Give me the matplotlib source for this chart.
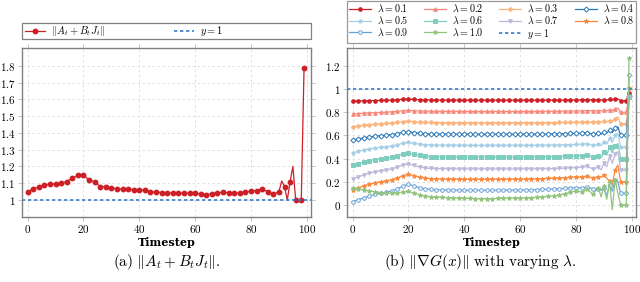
import numpy as np
import matplotlib
matplotlib.use('Agg')
import matplotlib.pyplot as plt
from matplotlib.patches import Rectangle
from matplotlib.ticker import FixedLocator, FixedFormatter

plt.rcParams['mathtext.fontset'] = 'cm'
plt.rcParams['font.family'] = ['DejaVu Serif']

# ---- (a) ||A_t + B_t J_t|| ----
t_a = list(range(0, 91, 2)) + [91, 92, 93, 94, 95, 96, 98, 99]
norm_a = [1.050, 1.064, 1.078, 1.090, 1.093, 1.097, 1.100, 1.110, 1.130, 1.147,
          1.150, 1.118, 1.107, 1.080, 1.080, 1.070, 1.068, 1.064, 1.064, 1.062,
          1.060, 1.058, 1.048, 1.048, 1.044, 1.040, 1.042, 1.040, 1.040, 1.040,
          1.040, 1.036, 1.032, 1.036, 1.042, 1.046, 1.042, 1.040, 1.042, 1.046,
          1.054, 1.056, 1.066, 1.048, 1.034, 1.050,
          1.113, 1.080, 1.000, 1.110, 1.200, 1.000, 1.000, 1.790]
unmarked_a = [91, 93, 95]

# ---- (b) ||grad G(x)|| for several lambda ----
t_b = list(range(0, 89, 2)) + list(range(89, 100))
lambdas = ['0.1', '0.2', '0.3', '0.4', '0.5', '0.6', '0.7', '0.8', '0.9', '1.0']
g01 = [0.895, 0.897, 0.899, 0.900, 0.901, 0.902, 0.903, 0.905, 0.908, 0.911, 0.912, 0.910, 0.908, 0.907, 0.906,
       0.906, 0.905, 0.905, 0.905, 0.905, 0.904, 0.904, 0.904, 0.904, 0.904, 0.904, 0.904, 0.904, 0.904, 0.904,
       0.904, 0.904, 0.904, 0.904, 0.905, 0.905, 0.905, 0.905, 0.905, 0.906, 0.906, 0.906, 0.907, 0.906, 0.906,
       0.905, 0.908, 0.906, 0.910, 0.908, 0.912, 0.915, 0.900, 0.900, 0.900, 0.970]
g02 = [0.784, 0.788, 0.792, 0.795, 0.797, 0.799, 0.801, 0.804, 0.808, 0.813, 0.816, 0.813, 0.811, 0.810, 0.809,
       0.809, 0.808, 0.808, 0.808, 0.808, 0.807, 0.807, 0.807, 0.807, 0.807, 0.807, 0.807, 0.807, 0.807, 0.807,
       0.807, 0.807, 0.808, 0.808, 0.808, 0.808, 0.809, 0.809, 0.810, 0.810, 0.811, 0.812, 0.814, 0.812, 0.813,
       0.812, 0.818, 0.812, 0.822, 0.815, 0.830, 0.836, 0.800, 0.800, 0.800, 0.950]
g03 = [0.675, 0.682, 0.688, 0.693, 0.697, 0.700, 0.703, 0.707, 0.713, 0.720, 0.724, 0.719, 0.715, 0.713, 0.712,
       0.711, 0.710, 0.710, 0.710, 0.709, 0.709, 0.709, 0.709, 0.709, 0.709, 0.709, 0.709, 0.709, 0.709, 0.709,
       0.709, 0.710, 0.710, 0.710, 0.710, 0.711, 0.711, 0.712, 0.712, 0.713, 0.714, 0.716, 0.718, 0.715, 0.717,
       0.715, 0.722, 0.716, 0.728, 0.720, 0.745, 0.760, 0.700, 0.700, 0.700, 0.940]
g04 = [0.560, 0.570, 0.579, 0.587, 0.593, 0.598, 0.602, 0.607, 0.615, 0.626, 0.632, 0.625, 0.619, 0.616, 0.614,
       0.613, 0.612, 0.612, 0.612, 0.611, 0.611, 0.611, 0.611, 0.611, 0.611, 0.611, 0.611, 0.611, 0.611, 0.611,
       0.611, 0.612, 0.612, 0.612, 0.612, 0.613, 0.614, 0.615, 0.616, 0.617, 0.618, 0.620, 0.625, 0.612, 0.618,
       0.610, 0.630, 0.620, 0.645, 0.625, 0.660, 0.675, 0.600, 0.600, 0.600, 0.940]
g05 = [0.450, 0.463, 0.475, 0.485, 0.492, 0.498, 0.503, 0.509, 0.519, 0.533, 0.540, 0.531, 0.524, 0.520, 0.518,
       0.517, 0.516, 0.515, 0.515, 0.515, 0.514, 0.514, 0.514, 0.514, 0.514, 0.514, 0.514, 0.514, 0.514, 0.514,
       0.514, 0.515, 0.515, 0.515, 0.516, 0.516, 0.517, 0.518, 0.519, 0.521, 0.522, 0.525, 0.530, 0.515, 0.522,
       0.512, 0.545, 0.525, 0.575, 0.540, 0.600, 0.620, 0.500, 0.500, 0.500, 0.930]
g06 = [0.342, 0.357, 0.371, 0.383, 0.392, 0.399, 0.405, 0.412, 0.424, 0.441, 0.448, 0.438, 0.428, 0.421, 0.418,
       0.416, 0.415, 0.415, 0.414, 0.414, 0.414, 0.414, 0.414, 0.414, 0.414, 0.414, 0.414, 0.414, 0.414, 0.414,
       0.414, 0.415, 0.415, 0.415, 0.416, 0.416, 0.417, 0.418, 0.420, 0.422, 0.424, 0.427, 0.433, 0.415, 0.425,
       0.410, 0.455, 0.430, 0.500, 0.450, 0.510, 0.530, 0.400, 0.400, 0.400, 0.930]
g07 = [0.224, 0.243, 0.260, 0.275, 0.286, 0.295, 0.302, 0.311, 0.325, 0.345, 0.353, 0.341, 0.328, 0.320, 0.316,
       0.314, 0.313, 0.312, 0.312, 0.312, 0.311, 0.311, 0.311, 0.311, 0.311, 0.311, 0.311, 0.311, 0.311, 0.311,
       0.311, 0.312, 0.312, 0.312, 0.313, 0.313, 0.314, 0.316, 0.318, 0.320, 0.323, 0.326, 0.333, 0.312, 0.325,
       0.305, 0.360, 0.330, 0.420, 0.360, 0.440, 0.460, 0.300, 0.300, 0.300, 0.930]
g08 = [0.130, 0.148, 0.165, 0.180, 0.192, 0.201, 0.209, 0.218, 0.233, 0.254, 0.264, 0.252, 0.240, 0.232, 0.228,
       0.226, 0.225, 0.224, 0.224, 0.224, 0.223, 0.223, 0.223, 0.223, 0.223, 0.223, 0.223, 0.223, 0.223, 0.224,
       0.224, 0.224, 0.225, 0.226, 0.227, 0.229, 0.231, 0.233, 0.236, 0.239, 0.242, 0.240, 0.248, 0.232, 0.245,
       0.240, 0.262, 0.230, 0.210, 0.180, 0.300, 0.345, 0.200, 0.200, 0.200, 1.010]
g09 = [0.030, 0.045, 0.062, 0.078, 0.091, 0.101, 0.110, 0.121, 0.138, 0.164, 0.178, 0.165, 0.150, 0.140, 0.135,
       0.132, 0.130, 0.129, 0.128, 0.128, 0.127, 0.127, 0.127, 0.127, 0.127, 0.127, 0.127, 0.128, 0.128, 0.128,
       0.129, 0.130, 0.131, 0.133, 0.135, 0.137, 0.139, 0.141, 0.144, 0.147, 0.150, 0.148, 0.155, 0.140, 0.135,
       0.128, 0.150, 0.080, 0.170, 0.120, 0.220, 0.200, 0.100, 0.100, 0.100, 1.120]
g10 = [0.145, 0.138, 0.130, 0.122, 0.115, 0.108, 0.104, 0.100, 0.105, 0.113, 0.118, 0.102, 0.088, 0.075, 0.072,
       0.070, 0.066, 0.064, 0.062, 0.060, 0.058, 0.057, 0.056, 0.055, 0.055, 0.056, 0.057, 0.058, 0.060, 0.060,
       0.061, 0.062, 0.064, 0.066, 0.070, 0.075, 0.080, 0.088, 0.098, 0.110, 0.120, 0.112, 0.135, 0.095, 0.150,
       0.070, 0.160, 0.050, 0.200, -0.040, 0.220, 0.100, 0.000, 0.000, 0.000, 1.270]
series_b = [g01, g02, g03, g04, g05, g06, g07, g08, g09, g10]

colors_b = ['#cc1f26', '#f8877a', '#fdb27a', '#2a78ba', '#a6cfe6',
            '#7fcdbf', '#bcb8da', '#fb8a3e', '#6aa0d8', '#92c47e']
markers_b = ['o', '^', 'P', 'D', 'p', 's', 'v', '*', 'o', '*']
open_b = [False, False, False, True, False, False, False, False, True, False]

dash_col = '#3a7cc8'
red = '#cc1f26'


def style_axes(ax):
    for s in ax.spines.values():
        s.set_color('#808080')
        s.set_linewidth(1.0)
    ax.grid(True, color='#dcdcdc', linestyle=(0, (3, 3)), linewidth=0.6)
    ax.set_axisbelow(True)
    ax.tick_params(direction='out', length=3, width=0.6, color='#bbbbbb',
                   top=True, right=True, labelsize=8, pad=1.5)
    ax.set_xlim(-2, 101.5)
    xt = [0, 20, 40, 60, 80, 100]
    ax.xaxis.set_major_locator(FixedLocator(xt))
    ax.xaxis.set_major_formatter(FixedFormatter(['$%d$' % v for v in xt]))
    ax.set_xlabel('Timestep', fontsize=8, fontweight='bold', labelpad=1)


fig = plt.figure(figsize=(6.4, 2.82), dpi=100)
ax1 = fig.add_axes([0.0344, 0.2305, 0.4516, 0.599])
ax2 = fig.add_axes([0.5422, 0.2305, 0.4516, 0.599])

# left panel
mk_a = [i for i, t in enumerate(t_a) if t not in unmarked_a]
ax1.plot(t_a, norm_a, color=red, lw=0.9, marker='o', ms=3.2, markevery=mk_a,
         label=r'$\|A_t + B_tJ_t\|$')
ax1.axhline(1, color=dash_col, lw=1.2, ls=(0, (2, 1.6)), label=r'$y=1$')
style_axes(ax1)
ax1.set_ylim(0.898, 1.907)
yt_a = [1, 1.1, 1.2, 1.3, 1.4, 1.5, 1.6, 1.7, 1.8]
ax1.yaxis.set_major_locator(FixedLocator(yt_a))
ax1.yaxis.set_major_formatter(FixedFormatter(['$%g$' % v for v in yt_a]))
leg1 = ax1.legend(loc='center left', bbox_to_anchor=(0.0, 1.10), ncol=2,
                  fontsize=7.5, frameon=False, borderaxespad=0, handlelength=1.9,
                  borderpad=0.3, handletextpad=0.6, columnspacing=6.6)
ax1.add_patch(Rectangle((0, 1.053), 1, 0.095, transform=ax1.transAxes, clip_on=False,
                        fill=False, edgecolor='#808080', linewidth=0.9))

# right panel
mk_b = [i for i, t in enumerate(t_b) if t % 2 == 0 or t == 99]
handles = {}
for lam, vals, c, m, op in zip(lambdas, series_b, colors_b, markers_b, open_b):
    h, = ax2.plot(t_b, vals, color=c, lw=0.9, marker=m, ms=2.6 if m != '*' else 3.4,
                  markevery=mk_b, markerfacecolor='white' if op else c,
                  markeredgecolor=c, markeredgewidth=0.7, label=r'$\lambda=%s$' % lam)
    handles[lam] = h
hy = ax2.axhline(1, color=dash_col, lw=1.2, ls=(0, (2, 1.6)), label=r'$y=1$')
style_axes(ax2)
ax2.set_ylim(-0.103, 1.353)
yt_b = [0, 0.2, 0.4, 0.6, 0.8, 1, 1.2]
ax2.yaxis.set_major_locator(FixedLocator(yt_b))
ax2.yaxis.set_major_formatter(FixedFormatter(['$%g$' % v for v in yt_b]))
order = ['0.1', '0.5', '0.9', '0.2', '0.6', '1.0', '0.3', '0.7', None, '0.4', '0.8']
hl = [handles[k] if k else hy for k in order]
leg2 = fig.legend(hl, [h.get_label() for h in hl], loc='upper left',
                  bbox_to_anchor=(0.5422, 0.996, 0.4516, 0.0), mode='expand', ncol=4,
                  fontsize=7.2, frameon=True, fancybox=False, borderaxespad=0,
                  handlelength=2.2, borderpad=0.2, handletextpad=0.6,
                  labelspacing=0.05)
leg2.get_frame().set_edgecolor('#808080')
leg2.get_frame().set_linewidth(0.9)

fig.text(0.26, 0.055, r'$\mathrm{(a)}\ \|A_t + B_tJ_t\|.$', ha='center', fontsize=11)
fig.text(0.75, 0.055, r'$\mathrm{(b)}\ \|\nabla G(x)\|\ \mathrm{with\ varying}\ \lambda.$',
         ha='center', fontsize=11)

fig.savefig('out.png', dpi=100)
